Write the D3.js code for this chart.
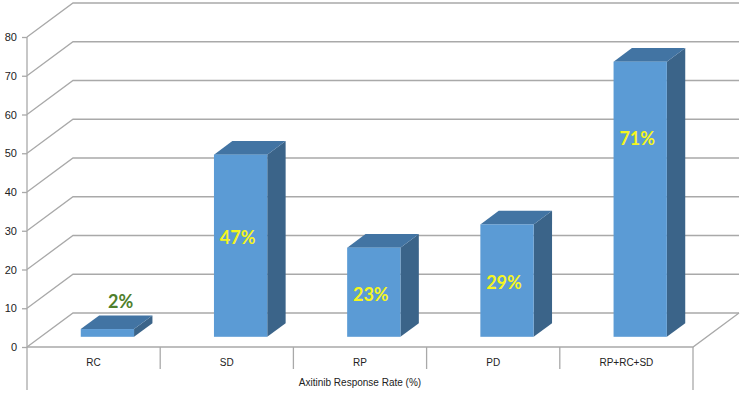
<!DOCTYPE html>
<html>
<head>
<meta charset="utf-8">
<script src="https://cdn.jsdelivr.net/npm/d3@7"></script>
<style>
  html, body { margin: 0; padding: 0; background: #fff; }
  svg { display: block; }
</style>
</head>
<body>
<svg id="chart" width="746" height="397"></svg>
<script>
// ---- data ----
const categories = ["RC", "SD", "RP", "PD", "RP+RC+SD"];
const values = [2, 47, 23, 29, 71];
const labels = ["2%", "47%", "23%", "29%", "71%"];
// level (in axis units above bar base) where each data label sits, as placed in the original
const labelAt = [9, 25.5, 10.8, 14.1, 51.1];
const yTicks = [0, 10, 20, 30, 40, 50, 60, 70, 80];
const axisTitle = "Axitinib Response Rate (%)";

// ---- layout ----
const svg = d3.select("#chart");
const left = 27, right = 693, floorY = 347, topY = 37;
const depthDX = 46, depthDY = -34;       // full depth of the 3D box
const barD0 = 0.3, barD1 = 0.7;           // bar occupies this fraction of the depth
const y = d3.scaleLinear().domain([0, 80]).range([floorY, topY]);
const x = d3.scaleBand().domain(categories).range([left, right]).paddingInner(0).paddingOuter(0);
const gridColor = "#a9a9a9";
const proj = (px, py, t) => [px + t * depthDX, py + t * depthDY];

// gridlines: left wall oblique + back wall horizontal
const grid = svg.append("g").attr("stroke", gridColor).attr("stroke-width", 1.3).attr("fill", "none");
yTicks.forEach(v => {
  const p0 = [left, y(v)];
  const p1 = proj(left, y(v), 1);
  const p2 = [right + depthDX, p1[1]];
  grid.append("path").attr("d", d3.line()([p0, p1, p2]));
});
// floor
const fr = proj(right, floorY, 1);
grid.append("path").attr("d", d3.line()([[left, floorY], [right, floorY], fr]));
// left axis line and right frame line
grid.append("line").attr("x1", left).attr("x2", left).attr("y1", y(80)).attr("y2", 390);
grid.append("line").attr("x1", right).attr("x2", right).attr("y1", floorY).attr("y2", 390);
// category dividers
categories.slice(1).forEach(c => {
  grid.append("line").attr("x1", x(c)).attr("x2", x(c)).attr("y1", floorY).attr("y2", 369);
});

// y axis labels via d3 axis
const yAxis = d3.axisLeft(y).tickValues(yTicks).tickSize(5).tickPadding(5);
const ga = svg.append("g").attr("transform", `translate(${left},0)`).call(yAxis);
ga.select(".domain").remove();
ga.selectAll(".tick line").attr("stroke", gridColor).attr("stroke-width", 1.3);
ga.selectAll(".tick text").attr("fill", "#222").style("font-family", "'Liberation Sans', Arial, sans-serif").style("font-size", "11px");

// category labels
svg.append("g").selectAll("text").data(categories).join("text")
  .attr("x", d => x(d) + x.bandwidth() / 2)
  .attr("y", 366)
  .attr("text-anchor", "middle")
  .attr("fill", "#222")
  .style("font-family", "'Liberation Sans', Arial, sans-serif")
  .style("font-size", "10px")
  .text(d => d);
svg.append("text")
  .attr("x", x(categories[2]) + x.bandwidth() / 2)
  .attr("y", 386)
  .attr("text-anchor", "middle")
  .attr("fill", "#222")
  .style("font-family", "'Liberation Sans', Arial, sans-serif")
  .style("font-size", "10px")
  .text(axisTitle);

// bars
const barW = x.bandwidth() * 0.4;
const ddx = (barD1 - barD0) * depthDX, ddy = (barD1 - barD0) * depthDY;
const bars = svg.append("g");
categories.forEach((c, i) => {
  const cx = x(c) + x.bandwidth() / 2;
  const [fx, baseY] = proj(cx - barW / 2, floorY, barD0);
  const topYv = baseY - (y(0) - y(values[i]));
  const xr = fx + barW;
  // side
  bars.append("path")
    .attr("d", d3.line()([[xr, topYv], [xr + ddx, topYv + ddy], [xr + ddx, baseY + ddy], [xr, baseY]]) + "Z")
    .attr("fill", "#3b6489");
  // top
  bars.append("path")
    .attr("d", d3.line()([[fx, topYv], [xr, topYv], [xr + ddx, topYv + ddy], [fx + ddx, topYv + ddy]]) + "Z")
    .attr("fill", "#4274a3");
  // front
  bars.append("rect")
    .attr("x", fx).attr("y", topYv).attr("width", barW).attr("height", baseY - topYv)
    .attr("fill", "#5b9bd5");
});

// data labels
categories.forEach((c, i) => {
  const cx = x(c) + x.bandwidth() / 2;
  const [fx, baseY] = proj(cx, floorY, barD0);
  const inside = labelAt[i] < values[i];
  const ly = baseY - (y(0) - y(labelAt[i]));
  svg.append("text")
    .attr("x", inside ? fx - 3 : fx + ddx / 2 + 4)
    .attr("y", ly)
    .attr("dy", "0.36em")
    .attr("text-anchor", "middle")
    .attr("fill", inside ? "#f5f520" : "#4f7f2c")
    .style("font-family", "Lato, 'Liberation Sans', sans-serif")
    .style("font-weight", "bold")
    .style("font-size", "18px")
    .text(labels[i]);
});
</script>
</body>
</html>
